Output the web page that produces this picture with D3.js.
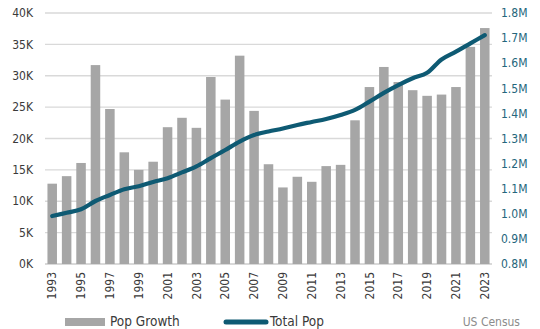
<!DOCTYPE html>
<html><head><meta charset="utf-8">
<script src="https://cdn.jsdelivr.net/npm/d3@7"></script>
<style>
html,body{margin:0;padding:0;background:#fff;}
svg{display:block;font-family:"Liberation Sans Narrow","DejaVu Sans Condensed","Roboto Condensed",sans-serif;}
</style></head>
<body><svg id="c" width="540" height="329"></svg>
<script>
const years = d3.range(1993, 2024).map(String);
const popGrowth = [12.8,14.0,16.1,31.7,24.7,17.8,15.0,16.3,21.8,23.3,21.7,29.8,26.2,33.2,24.4,15.9,12.2,13.9,13.1,15.6,15.8,22.9,28.2,31.4,29.0,27.7,26.8,27.0,28.2,34.6,37.6];
const totalPop = [0.991,1.004,1.018,1.051,1.075,1.098,1.110,1.127,1.142,1.165,1.189,1.222,1.254,1.288,1.314,1.328,1.340,1.354,1.366,1.378,1.394,1.414,1.447,1.482,1.513,1.540,1.562,1.615,1.646,1.679,1.712];
const leftTicks = [0,5,10,15,20,25,30,35,40];
const rightTicks = [0.8,0.9,1.0,1.1,1.2,1.3,1.4,1.5,1.6,1.7,1.8];
const legendLabels = ["Pop Growth","Total Pop"];
const sourceLabel = "US Census";

const svg = d3.select("#c");
const m = {l:45, r:492, t:13, b:264};
const x = d3.scaleBand().domain(years).range([m.l, m.r]).paddingInner(0.34).paddingOuter(0.17);
const yL = d3.scaleLinear().domain([0,40]).range([m.b, m.t]);
const yR = d3.scaleLinear().domain([0.8,1.8]).range([m.b, m.t]);

// gridlines
svg.append("g").selectAll("line").data(leftTicks).join("line")
  .attr("x1", m.l).attr("x2", m.r)
  .attr("y1", d=>yL(d)).attr("y2", d=>yL(d))
  .attr("stroke", "#d9d9d9").attr("stroke-width", d=>d===0?2:1.3);

// left labels
svg.append("g").selectAll("text").data(leftTicks).join("text")
  .attr("x", 33).attr("y", d=>yL(d)).attr("dy","0.35em")
  .attr("text-anchor","end").attr("font-size",12).attr("fill","#3a3a3a")
  .text(d=>d+"K");

// right labels
svg.append("g").selectAll("text").data(rightTicks).join("text")
  .attr("x", 501).attr("y", d=>yR(d)).attr("dy","0.35em")
  .attr("text-anchor","start").attr("font-size",12).attr("fill","#24667c")
  .text(d=>d.toFixed(1)+"M");

// bars
svg.append("g").selectAll("rect").data(popGrowth).join("rect")
  .attr("x",(d,i)=>x(years[i])).attr("width",x.bandwidth())
  .attr("y",d=>yL(d)).attr("height",d=>yL(0)-yL(d))
  .attr("fill","#a6a6a6");

// line
const line = d3.line().x((d,i)=>x(years[i])+x.bandwidth()/2).y(d=>yR(d)).curve(d3.curveCatmullRom.alpha(0.5));
svg.append("path").datum(totalPop).attr("d",line)
  .attr("fill","none").attr("stroke","#0e5a73").attr("stroke-width",4.2)
  .attr("stroke-linecap","round").attr("stroke-linejoin","round");

// x labels
svg.append("g").selectAll("text").data(years.filter((d,i)=>i%2===0)).join("text")
  .attr("transform",d=>`translate(${x(d)+x.bandwidth()/2},272) rotate(-90)`)
  .attr("text-anchor","end").attr("dy","0.35em")
  .attr("font-size",12).attr("fill","#3a3a3a").text(d=>d);

// legend
const lg = svg.append("g");
lg.append("rect").attr("x",65).attr("y",318).attr("width",40).attr("height",8).attr("fill","#a6a6a6");
lg.append("text").attr("x",110).attr("y",326).attr("font-size",13.5).attr("fill","#3a3a3a").text(legendLabels[0]);
lg.append("line").attr("x1",226).attr("x2",266).attr("y1",322).attr("y2",322)
  .attr("stroke","#0e5a73").attr("stroke-width",5).attr("stroke-linecap","round");
lg.append("text").attr("x",270).attr("y",326).attr("font-size",13.5).attr("fill","#3a3a3a").text(legendLabels[1]);
svg.append("text").attr("x",520).attr("y",326).attr("text-anchor","end")
  .attr("font-size",12).attr("fill","#8c8c8c").text(sourceLabel);
</script></body></html>
